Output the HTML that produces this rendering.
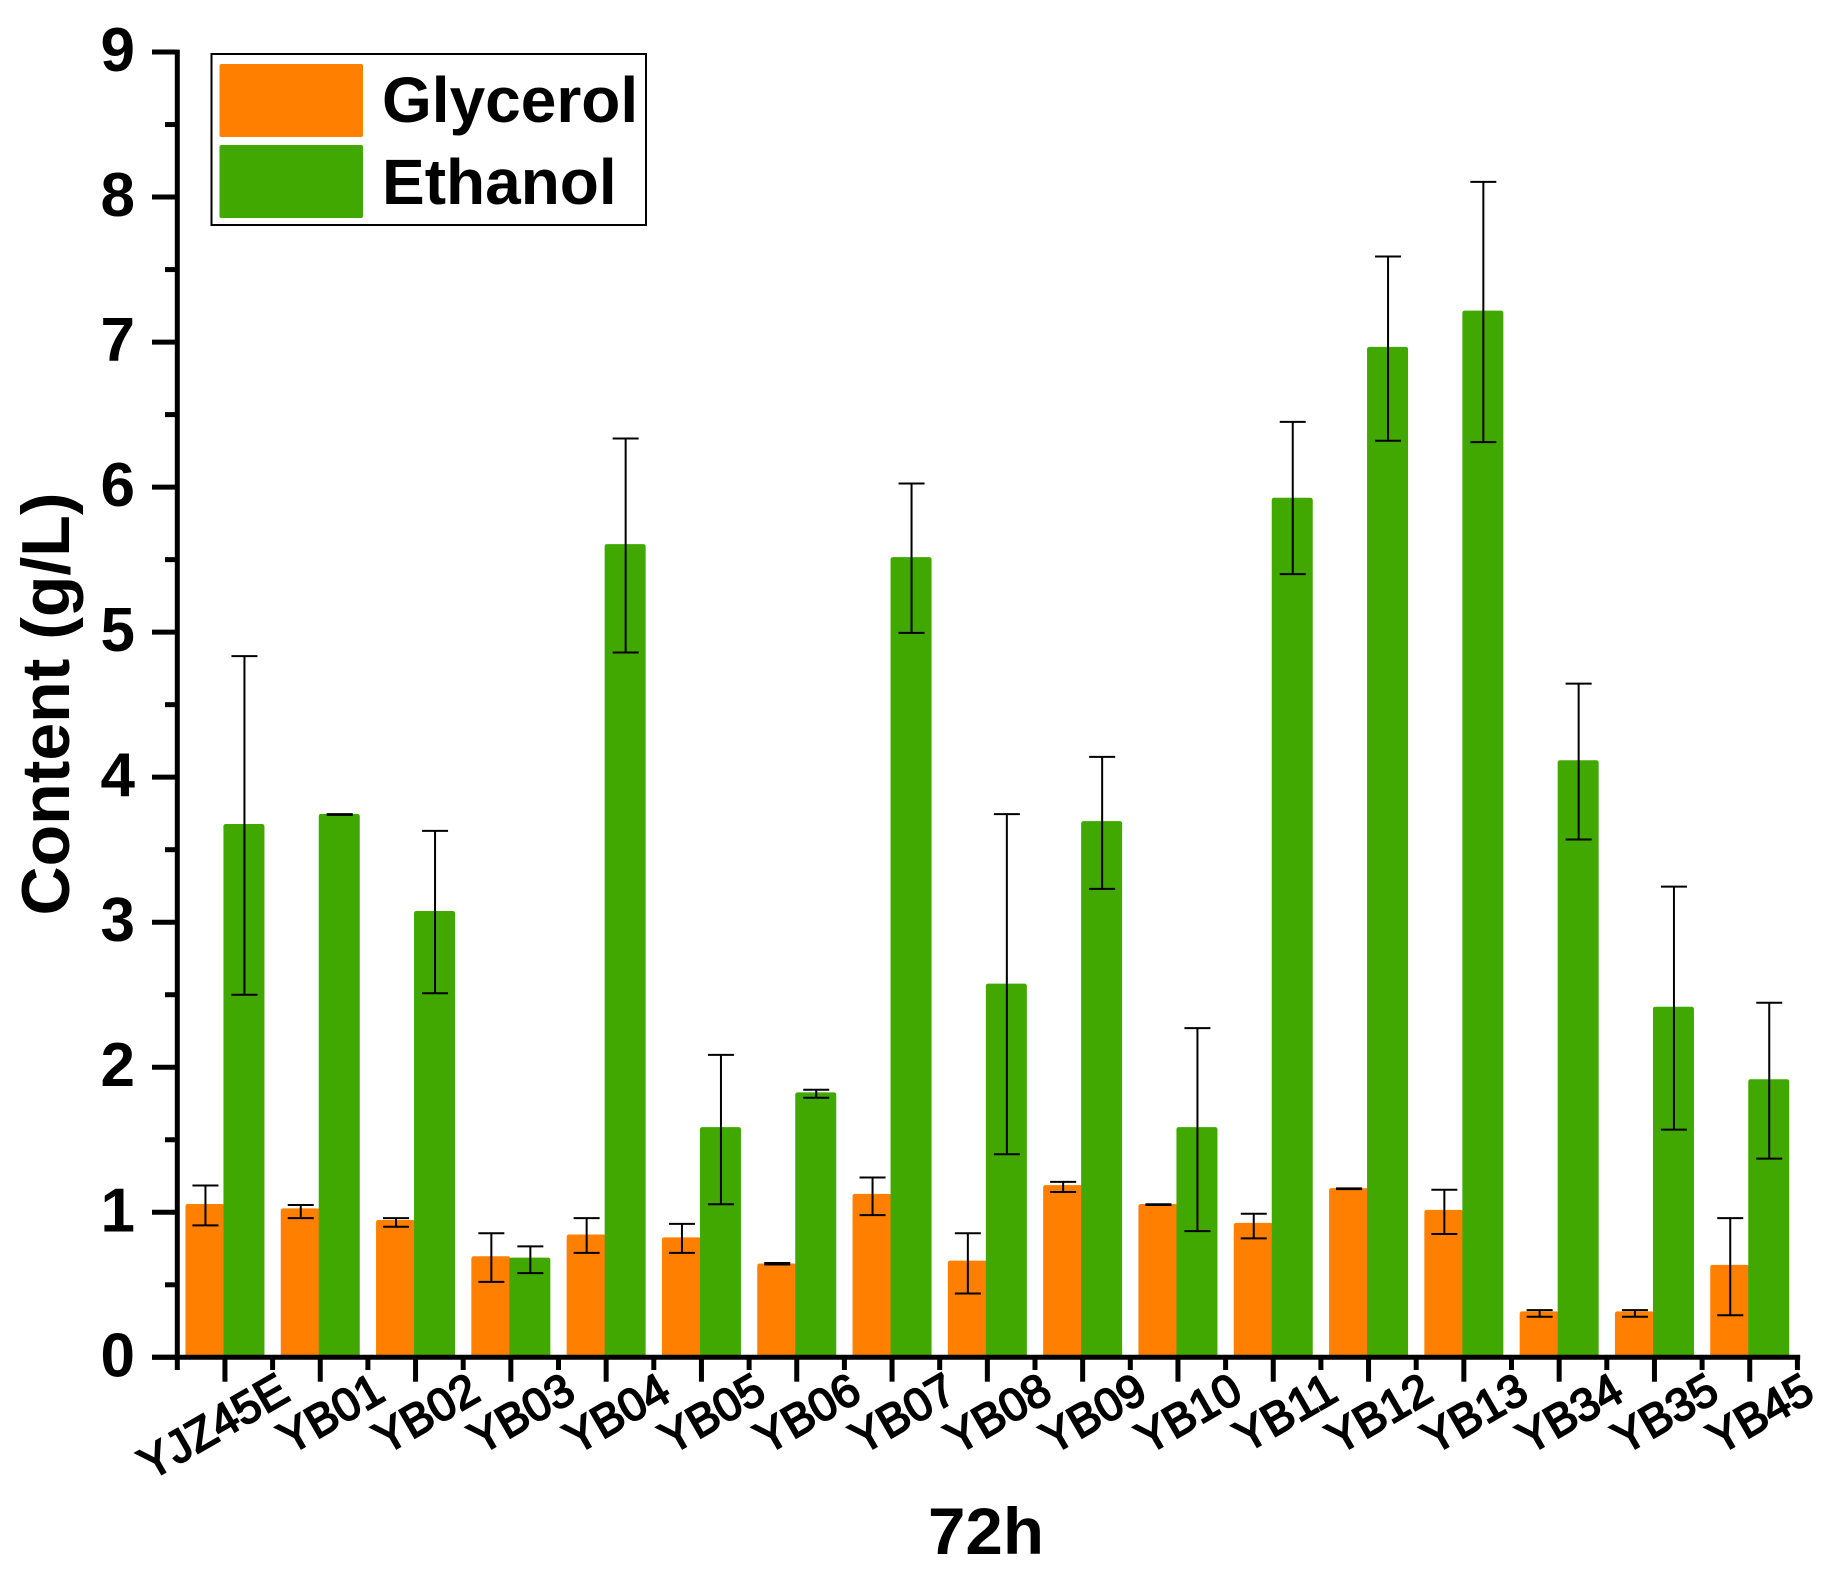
<!DOCTYPE html>
<html lang="en">
<head>
<meta charset="utf-8">
<title>Glycerol and ethanol content at 72h</title>
<style>
html,body{margin:0;padding:0;background:#fff;}
svg{display:block;}
text{font-family:"Liberation Sans",Arial,sans-serif;fill:#000;}
</style>
</head>
<body>
<svg id="chart" xmlns="http://www.w3.org/2000/svg" width="1827" height="1573" viewBox="0 0 1827 1573">
  <rect x="0" y="0" width="1827" height="1573" fill="#ffffff"/>
  <g id="bars"></g>
  <g id="errors"></g>
  <g id="axes"></g>
  <text transform="translate(69,704) rotate(-90)" text-anchor="middle" font-size="68" font-weight="700">Content (g/L)</text>
  <text x="994" y="1554" text-anchor="middle" font-size="66" font-weight="700" textLength="116" lengthAdjust="spacingAndGlyphs" transform="translate(-8,0)">72h</text>
  <g>
    <rect x="211.5" y="54" width="434.5" height="171" fill="#fff" stroke="#000" stroke-width="2"/>
    <rect x="219.5" y="64" width="143.5" height="73" rx="2" fill="#ff8000"/>
    <text x="382" y="122" font-size="64" font-weight="700">Glycerol</text>
    <rect x="219.5" y="145" width="143.5" height="73" rx="2" fill="#40a800"/>
    <text x="382" y="204" font-size="64" font-weight="700">Ethanol</text>
  </g>
</svg>
<script>
var categories = ["YJZ45E","YB01","YB02","YB03","YB04","YB05","YB06","YB07","YB08","YB09","YB10","YB11","YB12","YB13","YB34","YB35","YB45"];
var glycerol     = [1.05,1.02,0.94,0.69,0.84,0.82,0.64,1.12,0.66,1.18,1.05,0.92,1.16,1.01,0.31,0.31,0.63];
var glycerolHigh = [1.185,1.05,0.96,0.855,0.96,0.92,0.65,1.24,0.855,1.21,1.055,0.99,1.165,1.155,0.325,0.325,0.96];
var glycerolLow  = [0.91,0.96,0.90,0.52,0.72,0.72,0.64,0.98,0.44,1.14,1.05,0.82,1.16,0.85,0.28,0.28,0.29];
var ethanol      = [3.67,3.74,3.07,0.68,5.60,1.58,1.82,5.51,2.57,3.69,1.58,5.92,6.96,7.21,4.11,2.41,1.91];
var ethanolHigh  = [4.835,3.745,3.63,0.765,6.335,2.085,1.845,6.025,3.745,4.14,2.27,6.45,7.59,8.105,4.645,3.245,2.445];
var ethanolLow   = [2.50,3.74,2.51,0.58,4.86,1.055,1.79,4.995,1.40,3.23,0.87,5.40,6.32,6.31,3.57,1.57,1.37];
var yTicks = [0,1,2,3,4,5,6,7,8,9];

var NS = "http://www.w3.org/2000/svg";
function xCenter(i){ return 177.3 + 95.3 * (i + 0.5); }
function xEdge(i){ return 177.3 + 95.3 * i; }
function yPos(v){ return 1357.3 - 145.03 * v; }
function mk(parent, tag, attrs){
  var el = document.createElementNS(NS, tag);
  for (var k in attrs) el.setAttribute(k, attrs[k]);
  parent.appendChild(el);
  return el;
}
var barsG = document.getElementById("bars");
var errG = document.getElementById("errors");
var axesG = document.getElementById("axes");

function drawBar(x, w, v, color, name){
  var top = yPos(v) - 1, base = yPos(0), r = 2.5;
  var el = mk(barsG, "path", {
    d: "M" + x + " " + base + "V" + (top + r) + "Q" + x + " " + top + " " + (x + r) + " " + top +
       "H" + (x + w - r) + "Q" + (x + w) + " " + top + " " + (x + w) + " " + (top + r) + "V" + base + "Z",
    fill: color
  });
  
  
}
function drawError(cx, hi, lo, name){
  var g = mk(errG, "g", {stroke: "#000", "stroke-width": 2, fill: "none"});
  
  
  mk(g, "line", {x1: cx, x2: cx, y1: yPos(hi), y2: yPos(lo)});
  mk(g, "line", {x1: cx - 13, x2: cx + 13, y1: yPos(hi), y2: yPos(hi)});
  mk(g, "line", {x1: cx - 13, x2: cx + 13, y1: yPos(lo), y2: yPos(lo)});
}
categories.forEach(function(c, i){
  var cx = xCenter(i);
  drawBar(cx - 39.5, 39, glycerol[i], "#ff8000", "bar-glycerol-" + c.toLowerCase());
  drawBar(cx - 1.5, 41, ethanol[i], "#40a800", "bar-ethanol-" + c.toLowerCase());
});
categories.forEach(function(c, i){
  var cx = xCenter(i);
  drawError(cx - 19.5, glycerolHigh[i], glycerolLow[i], "error-glycerol-" + c.toLowerCase());
  drawError(cx + 19.5, ethanolHigh[i], ethanolLow[i], "error-ethanol-" + c.toLowerCase());
});

var yAxis = mk(axesG, "line", {x1: 177.3, x2: 177.3, y1: yPos(9) - 2.4, y2: 1370, stroke: "#000", "stroke-width": 5});


var xAxis = mk(axesG, "line", {x1: 152, x2: 1800.2, y1: yPos(0), y2: yPos(0), stroke: "#000", "stroke-width": 5});



yTicks.forEach(function(t, i){
  var tick = mk(axesG, "line", {x1: 152, x2: 177.3, y1: yPos(t), y2: yPos(t), stroke: "#000", "stroke-width": 5});
  
  
  if (i < yTicks.length - 1) {
    var mid = (t + yTicks[i + 1]) / 2;
    var minor = mk(axesG, "line", {x1: 165, x2: 177.3, y1: yPos(mid), y2: yPos(mid), stroke: "#000", "stroke-width": 5});
    
    
  }
  var label = mk(axesG, "text", {x: 135, y: yPos(t) + 19, "text-anchor": "end", "font-size": 62, "font-weight": 700});
  label.textContent = String(t);
  
  
});

categories.forEach(function(c, i){
  var cx = xCenter(i);
  var tick = mk(axesG, "line", {x1: cx, x2: cx, y1: yPos(0), y2: 1381.7, stroke: "#000", "stroke-width": 5});
  
  
  var minor = mk(axesG, "line", {x1: xEdge(i + 1), x2: xEdge(i + 1), y1: yPos(0), y2: 1370, stroke: "#000", "stroke-width": 5});
  
  
  var label = mk(axesG, "text", {
    transform: "translate(" + (cx + 67) + ",1399) rotate(-30)",
    "text-anchor": "end", "font-size": 46, "font-weight": 400,
    stroke: "#000", "stroke-width": 1.8
  });
  label.textContent = c;
  
  
});
</script>
</body>
</html>
